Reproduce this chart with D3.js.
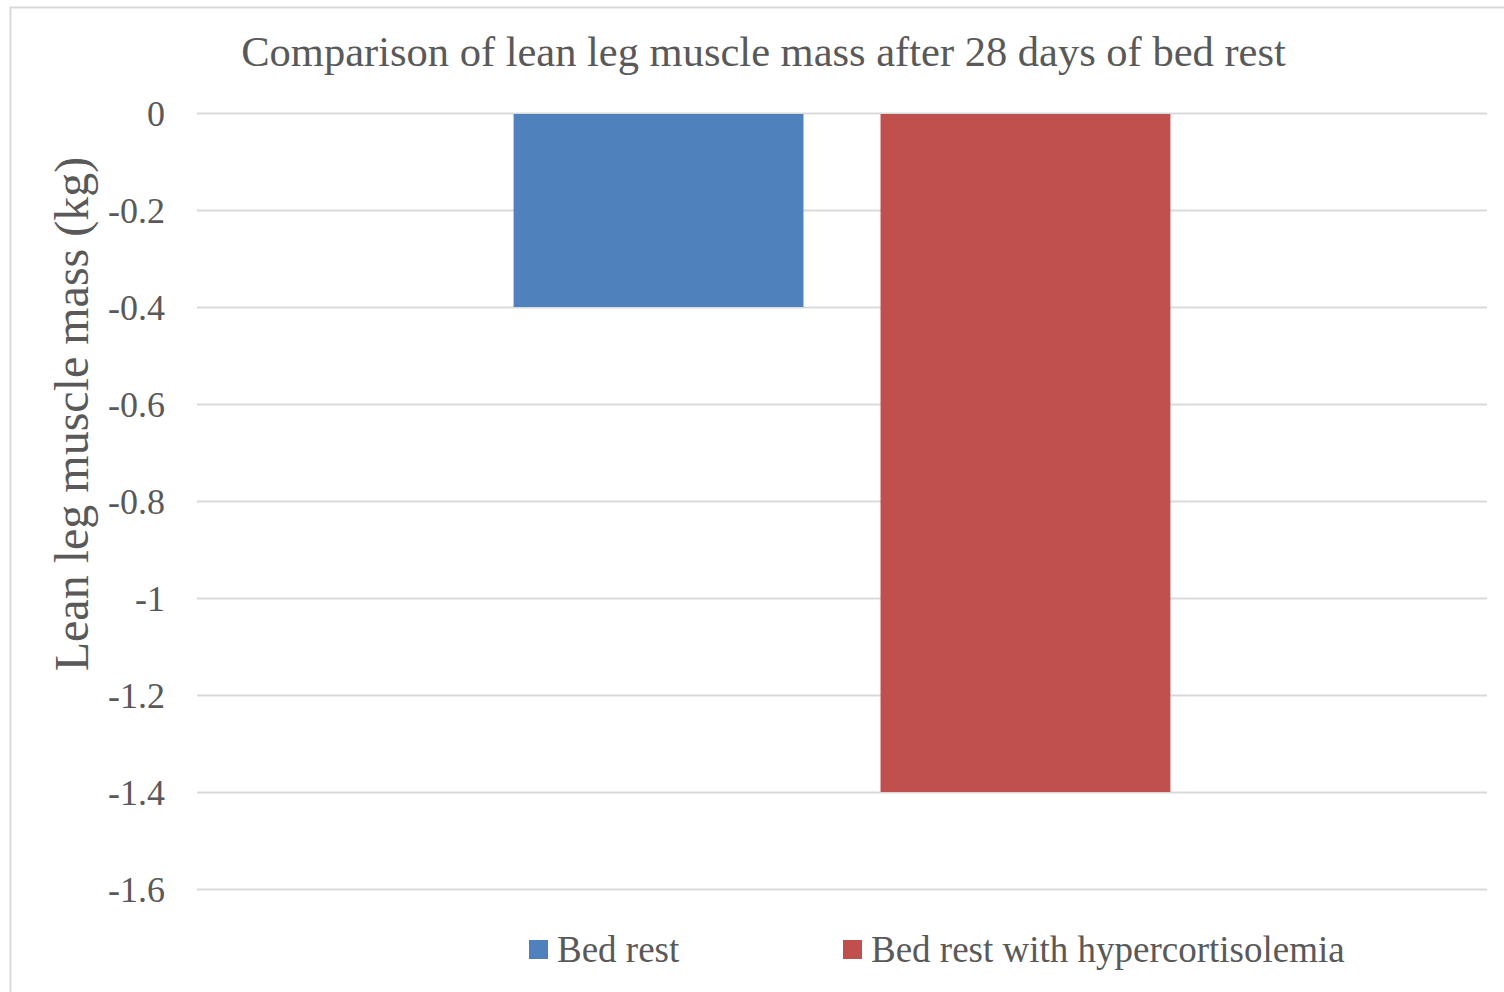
<!DOCTYPE html>
<html><head><meta charset="utf-8">
<script src="https://cdn.jsdelivr.net/npm/d3@7"></script>
<style>body{margin:0;background:#fff}svg{display:block}</style>
</head><body>
<svg id="c" width="1504" height="992"></svg>
<script>
const series = ["Bed rest", "Bed rest with hypercortisolemia"];
const values = [-0.4, -1.4];
const colors = ["#4F81BD", "#C0504D"];
const yTicks = [0, -0.2, -0.4, -0.6, -0.8, -1, -1.2, -1.4, -1.6];
const titleText = "Comparison of lean leg muscle mass after 28 days of bed rest";
const yLabel = "Lean leg muscle mass (kg)";

(function () {
const svg = d3.select("#c");
const font = "'Liberation Serif','Times New Roman',serif";
const textColor = "#595959";

// chart border
svg.append("rect").attr("x", 10.5).attr("y", 7.5).attr("width", 1600).attr("height", 1100)
  .attr("fill", "#fff").attr("stroke", "#d9d9d9").attr("stroke-width", 2);

const pL = 197, pR = 1487, pT = 113, pB = 889;
const y = d3.scaleLinear().domain([0, -1.6]).range([pT, pB]);
const xGroup = d3.scaleBand().domain(["g"]).range([pL, pR]).paddingInner(0).paddingOuter(0.482);
const xSeries = d3.scaleBand().domain(series).range([xGroup("g"), xGroup("g") + xGroup.bandwidth()]).paddingInner(0.21);

// grid
svg.append("g").selectAll("line").data(yTicks).join("line")
  .attr("x1", pL).attr("x2", pR)
  .attr("y1", d => Math.round(y(d)) + 0.5).attr("y2", d => Math.round(y(d)) + 0.5)
  .attr("stroke", "#d9d9d9").attr("stroke-width", 2);

// y axis labels
const yAxis = d3.axisLeft(y).tickValues(yTicks).tickSize(0).tickPadding(0).tickFormat(d => String(d));
const ga = svg.append("g").attr("transform", `translate(165,0)`).call(yAxis);
ga.select(".domain").remove();
ga.selectAll("text").attr("font-family", font).attr("font-size", 36).attr("fill", textColor).attr("dy", "0.34em");

// bars
svg.append("g").selectAll("rect").data(series).join("rect")
  .attr("x", d => xSeries(d))
  .attr("width", xSeries.bandwidth())
  .attr("y", (d, i) => y(0) + 1)
  .attr("height", (d, i) => y(values[i]) - y(0) - 1)
  .attr("fill", (d, i) => colors[i]);

// title
svg.append("text").attr("x", 763.5).attr("y", 66).attr("text-anchor", "middle")
  .attr("font-family", font).attr("font-size", 42.5).attr("fill", textColor).text(titleText);

// y label
svg.append("text").attr("transform", "translate(88,414) rotate(-90)").attr("text-anchor", "middle")
  .attr("font-family", font).attr("font-size", 48).attr("fill", textColor).text(yLabel);

// legend
const legX = [529, 843];
const lg = svg.append("g").selectAll("g").data(series).join("g")
  .attr("transform", (d, i) => `translate(${legX[i]},940)`);
lg.append("rect").attr("width", 19).attr("height", 19).attr("fill", (d, i) => colors[i]);
lg.append("text").attr("x", 28).attr("y", 22).attr("font-family", font).attr("font-size", 37)
  .attr("fill", textColor).text(d => d);
})();
</script>
</body></html>
